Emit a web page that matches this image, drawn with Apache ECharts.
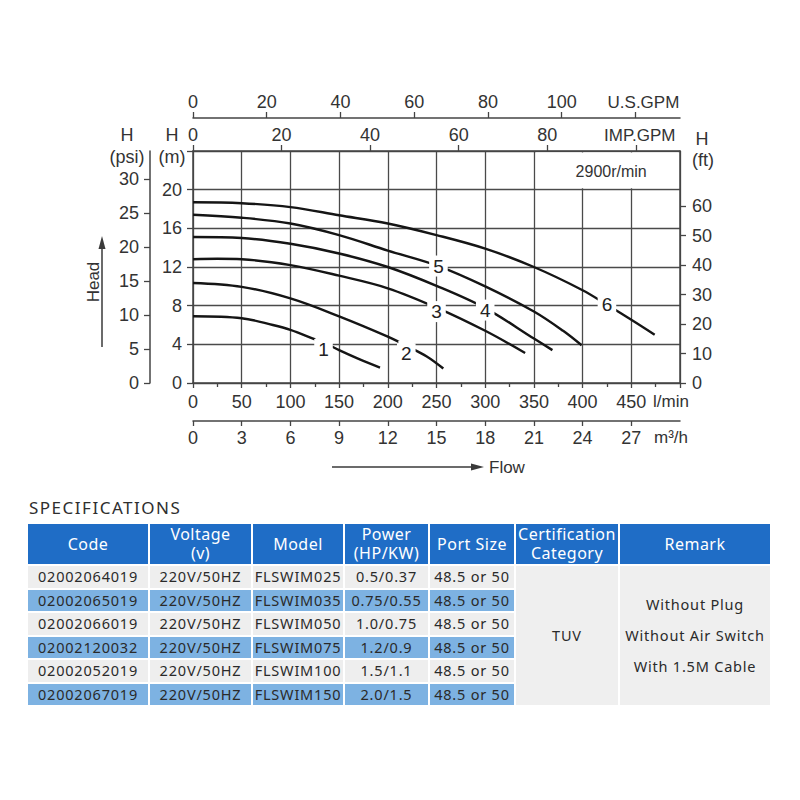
<!DOCTYPE html>
<html>
<head>
<meta charset="utf-8">
<script src="https://cdn.jsdelivr.net/npm/echarts@6/dist/echarts.min.js"></script>
<style>
  html, body { margin: 0; padding: 0; background: #fff; }
  #page { position: relative; width: 800px; height: 800px; overflow: hidden; }
  #main { position: absolute; left: 0; top: 0; width: 800px; height: 490px; }
  #spec-title {
    position: absolute; left: 29px; top: 496px;
    font-family: "Noto Sans", sans-serif; font-size: 17px; letter-spacing: 1.5px; color: #2e2e2e;
  }
  #spec {
    position: absolute; left: 26px; top: 522px; width: 746px;
    border-collapse: separate; border-spacing: 2px; table-layout: fixed;
    font-family: "Noto Sans", sans-serif;
  }
  #spec th {
    background: #1f6dc6; color: #fff; font-weight: normal; font-size: 16px;
    line-height: 19px; height: 40px; padding: 0; letter-spacing: 0.5px;
  }
  #spec td {
    height: 21.5px; padding: 0; font-size: 14.5px; letter-spacing: 0.8px; line-height: 21px;
    text-align: center; color: #2a2a2a; white-space: nowrap; overflow: hidden;
  }
  #spec tr.odd td { background: #eeeeee; }
  #spec tr.even td { background: #7db2e2; }
  #spec td.merged { background: #efefef !important; }
  #spec td.remark { line-height: 31px; }
</style>
</head>
<body>
<div id="page">
  <div id="main"></div>
  <div id="spec-title">SPECIFICATIONS</div>
  <table id="spec">
    <colgroup>
      <col style="width:120px"><col style="width:101px"><col style="width:90px">
      <col style="width:83px"><col style="width:84px"><col style="width:102px"><col style="width:150px">
    </colgroup>
    <thead><tr id="head-row"></tr></thead>
    <tbody id="spec-body"></tbody>
  </table>
</div>
<script>
// 流量刻度 (tick labels)
var lminTicks = [0, 50, 100, 150, 200, 250, 300, 350, 400, 450];
var m3hTicks = [0, 3, 6, 9, 12, 15, 18, 21, 24, 27];
var usGpmTicks = [0, 20, 40, 60, 80, 100];
var impGpmTicks = [0, 20, 40, 60, 80];
var headMTicks = [0, 4, 8, 12, 16, 20];
var psiTicks = [0, 5, 10, 15, 20, 25, 30];
var ftTicks = [0, 10, 20, 30, 40, 50, 60];

// 性能曲线 [l/min, m]
var curveNames = ['1', '2', '3', '4', '5', '6'];
var curve1 = [[0, 6.9], [50, 6.7], [82, 6.0], [100, 5.5], [127, 4.45], [134, 4.2], [150, 3.4], [170, 2.5], [192, 1.6]];
var curve2 = [[0, 10.35], [50, 9.95], [100, 8.75], [150, 6.9], [200, 4.8], [219, 3.85], [240, 2.75], [257, 1.5]];
var curve3 = [[0, 12.8], [25, 12.85], [50, 12.8], [100, 12.2], [150, 11.1], [200, 9.8], [250, 7.8], [300, 5.4], [341, 3.1]];
var curve4 = [[0, 15.1], [50, 15.0], [100, 14.4], [150, 13.4], [200, 12.0], [250, 10.05], [300, 7.75], [350, 4.6], [369, 3.4]];
var curve5 = [[0, 17.4], [50, 17.1], [100, 16.5], [150, 15.3], [200, 13.7], [252, 12.1], [300, 10.0], [350, 7.4], [380, 5.4], [399, 3.9]];
var curve6 = [[0, 18.7], [50, 18.6], [100, 18.2], [150, 17.35], [200, 16.5], [250, 15.3], [300, 13.9], [350, 12.0], [400, 9.6], [425, 8.1], [450, 6.55], [474, 5.0]];
var curves = [curve1, curve2, curve3, curve4, curve5, curve6];
var labelIndex = [5, 5, 6, 6, 5, 9];
var speedText = '2900r/min';

// 规格表
var headers = ['Code', 'Voltage<br>(v)', 'Model', 'Power<br>(HP/KW)', 'Port Size', 'Certification<br>Category', 'Remark'];
var codes = ['02002064019', '02002065019', '02002066019', '02002120032', '02002052019', '02002067019'];
var voltages = ['220V/50HZ', '220V/50HZ', '220V/50HZ', '220V/50HZ', '220V/50HZ', '220V/50HZ'];
var models = ['FLSWIM025', 'FLSWIM035', 'FLSWIM050', 'FLSWIM075', 'FLSWIM100', 'FLSWIM150'];
var powers = ['0.5/0.37', '0.75/0.55', '1.0/0.75', '1.2/0.9', '1.5/1.1', '2.0/1.5'];
var portSizes = ['48.5 or 50', '48.5 or 50', '48.5 or 50', '48.5 or 50', '48.5 or 50', '48.5 or 50'];
var certification = 'TUV';
var remarks = ['Without Plug', 'Without Air Switch', 'With 1.5M Cable'];

var LPM_MAX = 500, M_MAX = 24;
var FONT = 'Liberation Sans, Arial, sans-serif';
var INK = '#333';
var LINE = '#444';

// ---- table ----
var headRow = document.getElementById('head-row');
headers.forEach(function (h) {
  var th = document.createElement('th');
  th.innerHTML = h;
  headRow.appendChild(th);
});
var body = document.getElementById('spec-body');
for (var i = 0; i < codes.length; i++) {
  var tr = document.createElement('tr');
  tr.className = i % 2 === 0 ? 'odd' : 'even';
  [codes[i], voltages[i], models[i], powers[i], portSizes[i]].forEach(function (t) {
    var td = document.createElement('td');
    td.textContent = t;
    tr.appendChild(td);
  });
  if (i === 0) {
    var c = document.createElement('td');
    c.className = 'merged';
    c.rowSpan = codes.length;
    c.textContent = certification;
    tr.appendChild(c);
    var r = document.createElement('td');
    r.className = 'merged remark';
    r.rowSpan = codes.length;
    r.innerHTML = remarks.join('<br>');
    tr.appendChild(r);
  }
  body.appendChild(tr);
}

// ---- chart ----
var myChart = echarts.init(document.getElementById('main'), null, { renderer: 'svg' });

function lbl(extra) {
  var o = { fontSize: 18, color: INK, fontFamily: FONT };
  for (var k in extra) o[k] = extra[k];
  return o;
}
var axLine = { show: true, onZero: false, lineStyle: { color: LINE, width: 1.5 } };
var tick = function (len, vals) {
  var t = { show: true, length: len, lineStyle: { color: LINE, width: 1.3 } };
  if (vals) t.customValues = vals;
  return t;
};

var xAxes = [
  { // l/min
    type: 'value', min: 0, max: LPM_MAX, interval: 50, position: 'bottom',
    axisLine: axLine, axisTick: tick(5),
    minorTick: { show: true, splitNumber: 2, length: 4, lineStyle: { color: LINE, width: 1.3 } },
    splitLine: { show: true, lineStyle: { color: '#4a4a4a', width: 1.3 } },
    axisLabel: lbl({
      margin: 10, showMaxLabel: true,
      customValues: lminTicks.concat([LPM_MAX]),
      formatter: function (v) { return v === LPM_MAX ? '{u|l/min}' : String(v); },
      rich: { u: { fontSize: 17, color: INK, fontFamily: FONT, padding: [0, 18, 0, 0] } }
    })
  },
  { // m3/h
    type: 'value', min: 0, max: 30, position: 'bottom', offset: 38,
    axisLine: axLine, axisTick: tick(5, m3hTicks),
    splitLine: { show: false },
    axisLabel: lbl({
      margin: 8,
      customValues: m3hTicks.concat([30]),
      formatter: function (v) { return v === 30 ? '{u|m³/h}' : String(v); },
      rich: { u: { fontSize: 17, color: INK, fontFamily: FONT, padding: [0, 18, 0, 0] } }
    })
  },
  { // IMP.GPM
    type: 'value', min: 0, max: LPM_MAX / 4.54609, position: 'top', offset: 0,
    axisLine: axLine, axisTick: tick(6, impGpmTicks.concat([100])),
    splitLine: { show: false },
    axisLabel: lbl({
      margin: 7,
      customValues: impGpmTicks.concat([100]),
      formatter: function (v) { return v === 100 ? '{u|IMP.GPM}' : String(v); },
      rich: { u: { fontSize: 17, color: INK, fontFamily: FONT, padding: [0, 0, 0, 8] } }
    })
  },
  { // U.S.GPM
    type: 'value', min: 0, max: LPM_MAX / 3.78541, position: 'top', offset: 33,
    axisLine: axLine, axisTick: tick(6, usGpmTicks.concat([120])),
    splitLine: { show: false },
    axisLabel: lbl({
      margin: 7,
      customValues: usGpmTicks.concat([120]),
      formatter: function (v) { return v === 120 ? '{u|U.S.GPM}' : String(v); },
      rich: { u: { fontSize: 17, color: INK, fontFamily: FONT, padding: [0, 0, 0, 16] } }
    })
  }
];

var yAxes = [
  { // m
    type: 'value', min: 0, max: M_MAX, interval: 4, position: 'left',
    axisLine: axLine, axisTick: tick(6),
    splitLine: { show: true, lineStyle: { color: '#4a4a4a', width: 1.3 } },
    axisLabel: lbl({ margin: 11, customValues: headMTicks })
  },
  { // psi
    type: 'value', min: 0, max: M_MAX * 1.42233, position: 'left', offset: 43,
    axisLine: axLine, axisTick: tick(6, psiTicks),
    splitLine: { show: false },
    axisLabel: lbl({ margin: 11, customValues: psiTicks })
  },
  { // ft
    type: 'value', min: 0, max: M_MAX * 3.28084, position: 'right', offset: 0,
    axisLine: axLine, axisTick: tick(6, ftTicks),
    splitLine: { show: false },
    axisLabel: lbl({ margin: 12, customValues: ftTicks })
  }
];

var labelDy = [7, 8, 4, 2, 0, 0];
var series = curves.map(function (pts, ci) {
  var data = pts.map(function (p, i) {
    if (i !== labelIndex[ci]) return { value: p, symbol: 'none' };
    return {
      value: p, symbol: 'rect', symbolSize: [16, 10], itemStyle: { color: '#fff' },
      label: {
        show: true, position: 'inside', formatter: curveNames[ci], offset: [0, labelDy[ci]],
        fontSize: 19, color: '#222', fontFamily: FONT,
        backgroundColor: '#fff', padding: [1, 4]
      }
    };
  });
  var s = {
    type: 'line', name: curveNames[ci], data: data, smooth: 0.35,
    showSymbol: true, symbol: 'none', z: 3,
    lineStyle: { color: '#151515', width: 2.4 },
    emphasis: { disabled: true }
  };
  if (ci === 0) {
    s.markArea = {
      silent: true,
      itemStyle: { color: '#fff' },
      label: { show: true, position: 'inside', formatter: speedText, fontSize: 16, color: INK, fontFamily: FONT, offset: [4, 1] },
      data: [[{ xAxis: 352, yAxis: 20.15 }, { xAxis: 498.5, yAxis: 23.85 }]]
    };
  }
  return s;
});

// 轴标题
function axisTitle(x, y, text) {
  return { type: 'text', x: x, y: y, style: { text: text, fontSize: 18, fill: INK, fontFamily: FONT, align: 'center', verticalAlign: 'middle' } };
}

var option = {
  animation: false,
  grid: { left: 193, top: 151, width: 487, height: 232 },
  xAxis: xAxes,
  yAxis: yAxes,
  series: series,
  graphic: [
    axisTitle(127, 135, 'H'), axisTitle(127, 157, '(psi)'),
    axisTitle(172, 135, 'H'), axisTitle(172, 157, '(m)'),
    axisTitle(702, 139, 'H'), axisTitle(703, 160, '(ft)'),
    { type: 'line', shape: { x1: 102, y1: 347, x2: 102, y2: 246 }, style: { stroke: '#3a3a3a', lineWidth: 1.5 } },
    { type: 'polygon', shape: { points: [[102, 236], [98.5, 249], [105.5, 249]] }, style: { fill: '#3a3a3a' } },
    { type: 'text', x: 93, y: 282, rotation: Math.PI / 2, style: { text: 'Head', fontSize: 17, fill: INK, fontFamily: FONT, align: 'center', verticalAlign: 'middle' } },
    { type: 'line', shape: { x1: 332, y1: 467, x2: 472, y2: 467 }, style: { stroke: '#3a3a3a', lineWidth: 1.5 } },
    { type: 'polygon', shape: { points: [[484, 467], [471, 463.5], [471, 470.5]] }, style: { fill: '#3a3a3a' } },
    { type: 'text', x: 489, y: 467, style: { text: 'Flow', fontSize: 17, fill: INK, fontFamily: FONT, align: 'left', verticalAlign: 'middle' } }
  ]
};
myChart.setOption(option);
</script>
</body>
</html>
